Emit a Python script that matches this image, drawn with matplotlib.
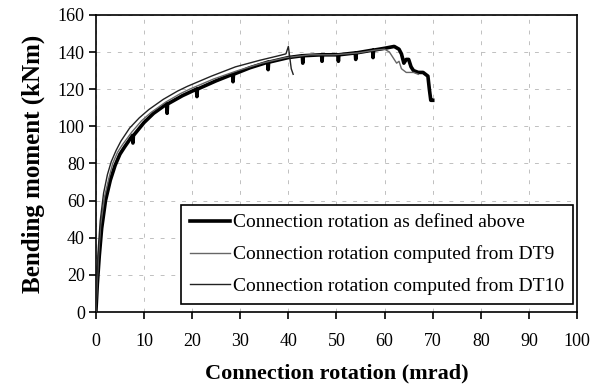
import matplotlib
matplotlib.use("Agg")
import matplotlib.pyplot as plt

# Main curve: connection rotation as defined above
x_main = [0, 0.3, 0.7, 1.2, 2, 3, 4, 5, 6, 7.6, 7.7, 7.8, 10, 12, 14.7, 14.8, 14.9, 18, 20.9, 21.0, 21.1,
          25, 28.4, 28.5, 28.6, 32, 35.7, 35.8, 35.9, 40, 42.9, 43.0, 43.1, 46.9, 47.0, 47.1,
          50.3, 50.4, 50.5, 53.9, 54.0, 54.1, 57.5, 57.6, 57.7,
          60, 61, 62, 63, 63.5, 64, 64.5, 65, 65.5, 66, 67, 68, 69, 69.3, 69.6, 70]
v_main = [0, 15, 30, 45, 60, 71, 79, 85, 89, 95, 91, 95, 102, 107, 112, 107, 112, 116.5, 120, 116, 120,
          124.5, 128, 124, 128, 131.5, 134.5, 130.5, 134.5, 137, 138, 134, 138, 138.5, 135, 138.5,
          138.5, 135, 138.5, 139.5, 136, 139.5, 141, 137, 141,
          142, 142.5, 143, 141.5, 139, 134, 136, 136, 132, 130, 129, 129, 127, 120, 114, 114]

# Connection rotation computed from DT9
x_dt9 = [0, 0.3, 0.6, 1, 1.8, 2.7, 3.5, 4.5, 5.5, 7.5, 9.5, 11.5, 14.5, 17.5, 19.5, 24.5, 29.5,
         34.5, 39.5, 44.5, 49.5, 54.5, 58, 60, 61, 62, 62.5, 63, 63.5, 64, 64.5, 65, 66, 67]
v_dt9 = [0, 17, 32, 47, 62, 72, 80, 86, 90, 97, 103, 107.5, 113, 117.5, 120, 125.5, 130,
         134, 137, 138.5, 138.5, 139.5, 141, 141.5, 140, 136, 134, 135, 131, 130, 129, 129, 129, 128]

# Connection rotation computed from DT10
x_dt10 = [0, 0.2, 0.5, 0.9, 1.6, 2.4, 3.2, 4.2, 5.2, 7, 9, 11, 14, 17, 19, 24, 29, 34, 38, 39.5,
          40, 40.3, 40.6, 41]
v_dt10 = [0, 18, 34, 49, 64, 74, 81, 87, 92, 99, 104.5, 109, 114.5, 119, 121.5, 127, 132, 135.5, 138, 139,
          143, 137, 131, 128]

labels = ["Connection rotation as defined above",
          "Connection rotation computed from DT9",
          "Connection rotation computed from DT10"]

plt.rcParams['font.family'] = ['Liberation Serif', 'DejaVu Serif']

fig = plt.figure(figsize=(6.03, 3.91), dpi=100)
ax = fig.add_axes([0.159, 0.202, 0.798, 0.760])

ax.plot(x_main, v_main, color='black', lw=2.6, label=labels[0], zorder=3)
ax.plot(x_dt9, v_dt9, color='#666666', lw=1.0, label=labels[1], zorder=4)
ax.plot(x_dt10, v_dt10, color='#222222', lw=1.0, label=labels[2], zorder=4)

ax.set_xlim(0, 100)
ax.set_ylim(0, 160)
ax.set_xticks(range(0, 101, 10))
ax.set_yticks(range(0, 161, 20))
ax.grid(True, color='#c0c0c0', linestyle=(0, (4, 7)), lw=0.7)
ax.tick_params(axis='x', direction='out', length=5, labelsize=13, width=1.2, pad=10)
ax.tick_params(axis='y', direction='out', length=5, labelsize=13, width=1.2, pad=3)
for s in ax.spines.values():
    s.set_linewidth(1.2)

ax.set_xlabel("Connection rotation (mrad)", fontsize=16, fontweight='bold', labelpad=10)
ax.set_ylabel("Bending moment (kNm)", fontsize=18, fontweight='bold', labelpad=9)

leg = ax.legend(loc='lower right', bbox_to_anchor=(0.992, 0.027), fontsize=14, frameon=True,
                fancybox=False, edgecolor='black', framealpha=1, handlelength=2.1,
                handletextpad=0.15, borderpad=0.45, labelspacing=0.72, borderaxespad=0)
leg.get_frame().set_linewidth(1.2)

fig.savefig("out.png", dpi=100)
